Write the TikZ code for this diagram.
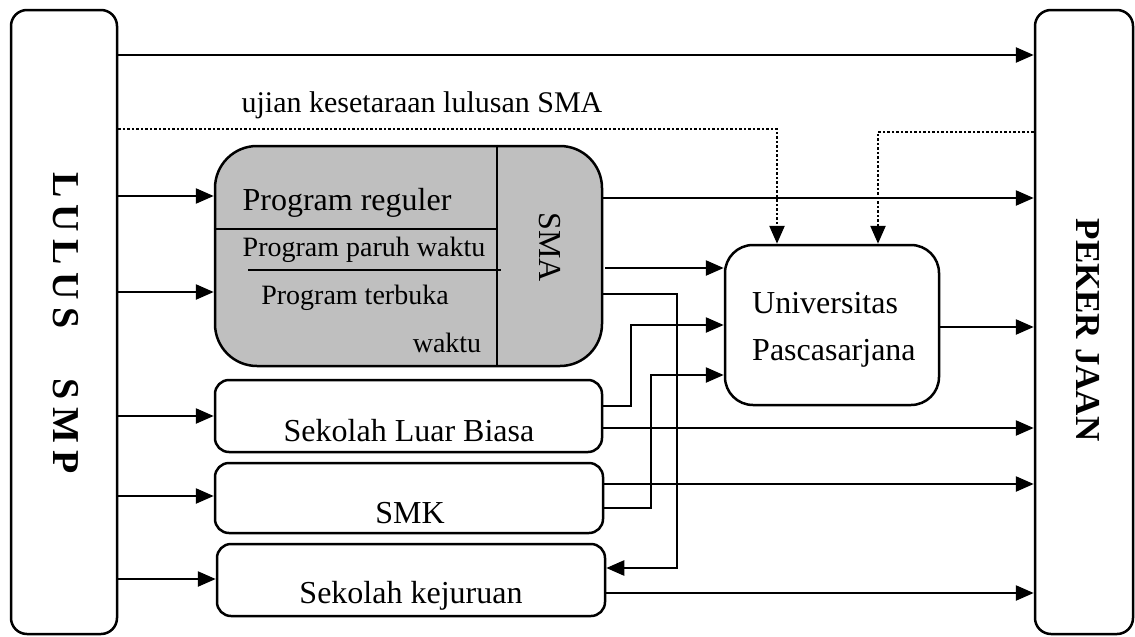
\documentclass[tikz,border=0pt]{standalone}
\usepackage{fontspec}
\setmainfont{Liberation Serif}
\usetikzlibrary{arrows.meta}

\tikzset{
  box/.style={draw, line width=2.5pt, rounded corners=14pt, inner sep=0pt},
  arr/.style={line width=2.5pt, -{Triangle[length=18pt,width=15pt]}},
  dots/.style={dash pattern=on 2.5pt off 2pt},
  txt/.style={inner sep=0pt, font=\fontsize{32}{36}\selectfont},
  small/.style={inner sep=0pt, font=\fontsize{28}{32}\selectfont},
  title/.style={inner sep=0pt, rotate=-90, font=\bfseries\fontsize{38}{42}\selectfont}
}

\begin{document}
\begin{tikzpicture}[x=1pt,y=-1pt]
      \useasboundingbox (0,0) rectangle (1135,637);
      % boxes
      \node[box, rounded corners=16pt, minimum width=106pt, minimum height=624pt] (lulus) at (64,322) {};
      \node[box, rounded corners=16pt, minimum width=98pt, minimum height=624pt] (kerja) at (1084,322) {};
      \node[box, fill=black!25, rounded corners=42pt, minimum width=387pt, minimum height=220pt] (sma) at (408.5,256) {};
      \node[box, rounded corners=28pt, minimum width=214pt, minimum height=160pt] (univ) at (832,325) {};
      \node[box, minimum width=387pt, minimum height=72pt] (slb) at (408.5,416) {};
      \node[box, minimum width=388pt, minimum height=70pt] (smk) at (409,498) {};
      \node[box, minimum width=388pt, minimum height=72pt] (kejuruan) at (411,580) {};
      % texts
      \node[title] (lulustext) at (66,323) {L\hspace{.2em}U\hspace{.2em}L\hspace{.2em}U\hspace{.2em}S\hspace{1.3em}S\hspace{.2em}M\hspace{.2em}P};
      \node[title, font=\bfseries\fontsize{35}{39}\selectfont] (kerjatext) at (1088,330) {PEKER JAAN};
      \node[txt, anchor=base] (reguler) at (347,210) {Program reguler};
      \node[small, anchor=base] (paruh) at (364,256) {Program paruh waktu};
      \node[small, anchor=base] (terbuka) at (355,304) {Program terbuka};
      \node[small, anchor=base] (waktu) at (447,352) {waktu};
      \node[txt, rotate=-90] (smatext) at (550,247) {SMA};
      \node[txt, anchor=base west] (univtext) at (752,313) {Universitas};
      \node[txt, anchor=base west] (pasca) at (752,360) {Pascasarjana};
      \node[txt, anchor=base] (slbtext) at (409,441) {Sekolah Luar Biasa};
      \node[txt, anchor=base] (smktext) at (410,523) {SMK};
      \node[txt, anchor=base] (kejtext) at (411,603) {Sekolah kejuruan};
      \node[txt, font=\fontsize{30}{34}\selectfont, anchor=base] (ujian) at (422,112) {ujian kesetaraan lulusan SMA};
      % lines inside SMA
      \draw[line width=2.5pt] (sma.north -| 497,0) -- (sma.south -| 497,0);
      \draw[line width=2.5pt] (sma.west |- 0,229) -- (497,229);
      \draw[line width=1.2pt] (248,270) -- (501,270);
      \begin{scope}[arr]
        \draw (lulus.east |- 0,55) -- (kerja.west |- 0,55);
        \draw (lulus.east |- 0,196) -- (sma.west |- 0,196);
        \draw (lulus.east |- 0,292) -- (sma.west |- 0,292);
        \draw (lulus.east |- 0,416) -- (slb.west |- 0,416);
        \draw (lulus.east |- 0,496) -- (smk.west |- 0,496);
        \draw (lulus.east |- 0,579) -- (kejuruan.west |- 0,579);
        \draw[dots] (lulus.east |- 0,129) -| (univ.north -| 777,0);
        \draw[dots] (kerja.west |- 0,132) -| (univ.north -| 878,0);
        \draw (sma.east |- 0,198) -- (kerja.west |- 0,198);
        \draw (605,268) -- (univ.west |- 0,268);
        \draw (sma.east |- 0,294) -- (677,294) -- (677,568) -- (kejuruan.east |- 0,568);
        \draw (slb.east |- 0,406) -- (631,406) -- (631,325) -- (univ.west |- 0,325);
        \draw (smk.east |- 0,508) -- (651,508) -- (651,375) -- (univ.west |- 0,375);
        \draw (univ.east |- 0,327) -- (kerja.west |- 0,327);
        \draw (slb.east |- 0,428) -- (kerja.west |- 0,428);
        \draw (smk.east |- 0,484) -- (kerja.west |- 0,484);
        \draw (kejuruan.east |- 0,593) -- (kerja.west |- 0,593);
      \end{scope}
\end{tikzpicture}
\end{document}
